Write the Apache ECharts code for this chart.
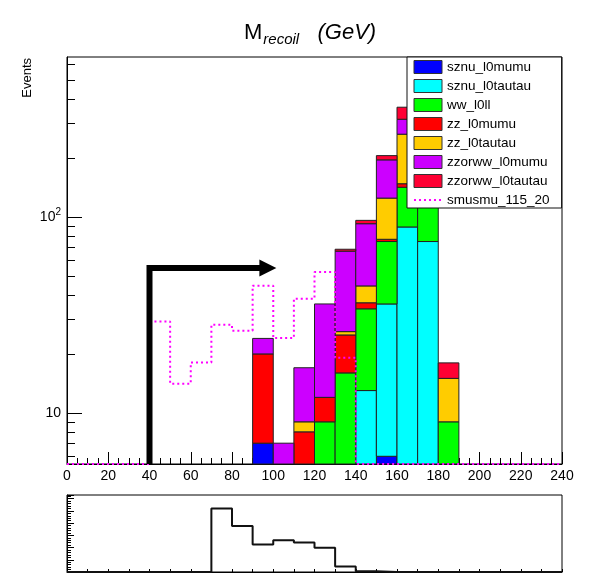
<!DOCTYPE html>
<html>
<head>
<meta charset="utf-8">
<title>M_recoil</title>
<script src="https://cdn.jsdelivr.net/npm/echarts@6/dist/echarts.min.js"></script>
<style>
  html, body { margin: 0; padding: 0; background: #ffffff; }
  #chart { width: 615px; height: 578px; }
</style>
</head>
<body>
<div id="chart"></div>
<script>
// Recoil-mass histogram: stacked backgrounds, signal overlay and a lower ratio-style panel.
const BIN_WIDTH = 10;
const Y_MIN = 5.48;
const Y_MAX = 657;

// Left edges of the 24 bins (GeV)
const binLeft = [0, 10, 20, 30, 40, 50, 60, 70, 80, 90, 100, 110,
                 120, 130, 140, 150, 160, 170, 180, 190, 200, 210, 220, 230];

// Background samples, events per bin (stack order: bottom first)
const sznu_l0mumu     = [0,0,0,0,0,0,0,0,0, 7, 0, 0, 0, 0,   0,  6,   0,  0, 0,0,0,0,0,0];
const sznu_l0tautau   = [0,0,0,0,0,0,0,0,0, 0, 0, 0, 0, 0,  13, 30,  89, 75, 0,0,0,0,0,0];
const ww_l0ll         = [0,0,0,0,0,0,0,0,0, 0, 0, 0, 9,16,  21, 39,  53, 55, 9,0,0,0,0,0];
const zz_l0mumu       = [0,0,0,0,0,0,0,0,0,13, 0, 8, 3, 9, 2.5,  2,   6,  3, 0,0,0,0,0,0];
const zz_l0tautau     = [0,0,0,0,0,0,0,0,0, 0, 0, 1, 0, 1,   8, 48, 117, 50, 6,0,0,0,0,0];
const zzorww_l0mumu   = [0,0,0,0,0,0,0,0,0, 4, 7, 8,24,41,  48, 71,  51, 30, 0,0,0,0,0,0];
const zzorww_l0tautau = [0,0,0,0,0,0,0,0,0, 0, 0, 0, 0,1.5,3.7, 10,  48, 15, 3,0,0,0,0,0];

// Signal sample (dotted outline)
const smusmu_115_20 = [0, 0, 0, 0, 29.3, 14.1, 18.1, 28.2, 26.3, 44.6, 24.1, 38.3,
                       52.4, 19.1, 0, 0, 0, 0, 0, 0, 0, 0, 0, 0];

// Lower panel
const lowerPanel = [0, 0, 0, 0, 0, 0, 0, 2.60, 1.88, 1.13, 1.30, 1.21,
                    0.99, 0.23, 0.03, 0, 0, 0, 0, 0, 0, 0, 0, 0];

// Cut marker
const cutX = 40;
const cutArrowY = 55;
const cutArrowTipX = 101.5;

// Axis tick values
const yMajorTicks = [10, 100];
const yMinorTicks = [6, 7, 8, 9, 20, 30, 40, 50, 60, 70, 80, 90, 200, 300, 400, 500, 600];

const samples = [
  { name: 'sznu_l0mumu',     values: sznu_l0mumu,     color: '#0000ff' },
  { name: 'sznu_l0tautau',   values: sznu_l0tautau,   color: '#00ffff' },
  { name: 'ww_l0ll',         values: ww_l0ll,         color: '#00ff00' },
  { name: 'zz_l0mumu',       values: zz_l0mumu,       color: '#ff0000' },
  { name: 'zz_l0tautau',     values: zz_l0tautau,     color: '#ffcc00' },
  { name: 'zzorww_l0mumu',   values: zzorww_l0mumu,   color: '#cc00ff' },
  { name: 'zzorww_l0tautau', values: zzorww_l0tautau, color: '#ff0033' }
];

const FONT = '"Liberation Sans", Arial, Helvetica, sans-serif';

// Build stacked [left, low, high] triples for every sample
const cumulative = binLeft.map(() => 0);
const stackSeries = samples.map(s => {
  const data = [];
  s.values.forEach((v, i) => {
    const lo = cumulative[i];
    const hi = lo + v;
    cumulative[i] = hi;
    if (v > 0) data.push([binLeft[i], lo, hi]);
  });
  return {
    type: 'custom',
    name: s.name,
    xAxisIndex: 0,
    yAxisIndex: 0,
    z: 2,
    itemStyle: { color: s.color, borderColor: '#222', borderWidth: 1 },
    encode: { x: 0, y: [1, 2] },
    data: data,
    renderItem: function (params, api) {
      const x0 = api.value(0), lo = api.value(1), hi = api.value(2);
      if (!(hi > lo) || hi <= Y_MIN) return;
      const a = api.coord([x0, Math.max(lo, Y_MIN)]);
      const b = api.coord([x0 + BIN_WIDTH, hi]);
      return {
        type: 'rect',
        shape: { x: a[0], y: b[1], width: b[0] - a[0], height: a[1] - b[1] },
        style: { fill: s.color, stroke: '#222', lineWidth: 1 }
      };
    }
  };
});

// Step outlines: one point per left edge plus the closing right edge
function stepPoints(values, floor) {
  const pts = binLeft.map((x, i) => [x, Math.max(values[i], floor)]);
  pts.push([binLeft[binLeft.length - 1] + BIN_WIDTH, Math.max(values[values.length - 1], floor)]);
  return pts;
}

const signalSeries = {
  type: 'line',
  name: 'smusmu_115_20',
  xAxisIndex: 0,
  yAxisIndex: 0,
  step: 'end',
  symbol: 'none',
  z: 5,
  data: stepPoints(smusmu_115_20, Y_MIN),
  // the legend marker only shows the dotted line
  itemStyle: { color: '#ff00ff', opacity: 0 },
  lineStyle: { color: '#ff00ff', width: 2, type: [2, 3] }
};

const arrowSeries = {
  type: 'custom',
  name: 'cut',
  xAxisIndex: 0,
  yAxisIndex: 0,
  z: 6,
  silent: true,
  data: [[cutX, cutArrowY, cutArrowTipX]],
  renderItem: function (params, api) {
    const x = api.value(0), y = api.value(1), tip = api.value(2);
    const p0 = api.coord([x, Y_MIN]);
    const p1 = api.coord([x, y]);
    const pt = api.coord([tip, y]);
    const headLen = 17, headHalf = 8.5;
    return {
      type: 'group',
      children: [
        {
          type: 'polyline',
          shape: { points: [p0, p1, [pt[0] - headLen + 1, pt[1]]] },
          style: { stroke: '#000', lineWidth: 6, fill: null, lineJoin: 'miter', lineCap: 'butt' }
        },
        {
          type: 'polygon',
          shape: { points: [pt, [pt[0] - headLen, pt[1] - headHalf], [pt[0] - headLen, pt[1] + headHalf]] },
          style: { fill: '#000' }
        }
      ]
    };
  }
};

const lowerSeries = {
  type: 'line',
  name: 'lower',
  xAxisIndex: 1,
  yAxisIndex: 2,
  step: 'end',
  symbol: 'none',
  data: stepPoints(lowerPanel, 0),
  lineStyle: { color: '#111', width: 2 }
};

const chart = echarts.init(document.getElementById('chart'), null, { renderer: 'canvas' });

chart.setOption({
  animation: false,
  backgroundColor: '#ffffff',
  textStyle: { fontFamily: FONT },
  title: {
    text: '{m|M}{s|recoil}{g|   (GeV)}',
    left: 239,
    top: 13,
    textStyle: {
      fontWeight: 'normal',
      rich: {
        m: { fontSize: 22, fontFamily: FONT, fontWeight: 'normal', color: '#000' },
        s: { fontSize: 15, fontFamily: FONT, fontWeight: 'normal', fontStyle: 'italic', color: '#000', padding: [14, 0, 0, 1] },
        g: { fontSize: 22, fontFamily: FONT, fontWeight: 'normal', fontStyle: 'italic', color: '#000' }
      }
    }
  },
  graphic: [
    {
      type: 'text',
      x: 27,
      y: 58,
      rotation: Math.PI / 2,
      style: {
        text: 'Events',
        fontSize: 13,
        fontFamily: FONT,
        fill: '#000',
        align: 'right',
        verticalAlign: 'middle'
      }
    }
  ],
  legend: {
    orient: 'vertical',
    left: 407,
    top: 57,
    padding: [3, 12, 1, 6],
    itemWidth: 28,
    itemHeight: 13,
    itemGap: 5,
    backgroundColor: '#ffffff',
    borderColor: '#111',
    borderWidth: 1,
    borderRadius: 0,
    z: 10,
    selectedMode: false,
    textStyle: { fontSize: 13.5, fontFamily: FONT, color: '#000' },
    data: samples.map(s => ({ name: s.name, icon: 'rect', itemStyle: { color: s.color, borderColor: '#333', borderWidth: 1, opacity: 1 } }))
      .concat([{ name: 'smusmu_115_20' }])
  },
  grid: [
    { left: 67, right: 53, top: 57, height: 407, show: true, borderColor: '#000', borderWidth: 1 },
    { left: 67, right: 53, top: 495, height: 77, show: true, borderColor: '#000', borderWidth: 1 }
  ],
  xAxis: [
    {
      type: 'value',
      gridIndex: 0,
      min: 0,
      max: 240,
      interval: 20,
      axisLine: { show: true, onZero: false, lineStyle: { color: '#000', width: 1 } },
      axisTick: { show: true, inside: true, length: 12, lineStyle: { color: '#000' } },
      minorTick: { show: true, splitNumber: 4, length: 6, lineStyle: { color: '#000' } },
      axisLabel: { fontSize: 14, color: '#000', margin: 5, fontFamily: FONT },
      splitLine: { show: false }
    },
    {
      type: 'value',
      gridIndex: 1,
      min: 0,
      max: 240,
      interval: 10,
      axisLine: { show: true, onZero: false, lineStyle: { color: '#000', width: 1 } },
      axisTick: { show: true, inside: true, length: 3, lineStyle: { color: '#000' } },
      axisLabel: { show: false },
      splitLine: { show: false }
    }
  ],
  yAxis: [
    {
      type: 'log',
      logBase: 10,
      gridIndex: 0,
      position: 'left',
      min: Y_MIN,
      max: Y_MAX,
      axisLine: { show: true, lineStyle: { color: '#000', width: 1 } },
      axisTick: { show: true, inside: true, length: 15, customValues: yMajorTicks, lineStyle: { color: '#000' } },
      axisLabel: {
        customValues: yMajorTicks,
        fontSize: 14,
        color: '#000',
        margin: 6,
        fontFamily: FONT,
        formatter: function (v) {
          const e = Math.round(Math.log10(v));
          if (Math.abs(Math.log10(v) - e) > 1e-6) return '';
          if (e === 1) return '10';
          return '10{sup|' + e + '}';
        },
        rich: {
          sup: { fontSize: 10, fontFamily: FONT, color: '#000', padding: [0, 0, 10, 0] }
        }
      },
      splitLine: { show: false }
    },
    {
      type: 'log',
      logBase: 10,
      gridIndex: 0,
      position: 'left',
      offset: 0,
      min: Y_MIN,
      max: Y_MAX,
      axisLine: { show: false },
      axisTick: { show: true, inside: true, length: 8, customValues: yMinorTicks, lineStyle: { color: '#000' } },
      axisLabel: { show: false },
      splitLine: { show: false }
    },
    {
      type: 'value',
      gridIndex: 1,
      min: 0,
      max: 3.15,
      interval: 0.5,
      axisLine: { show: true, lineStyle: { color: '#000', width: 1 } },
      axisTick: { show: true, inside: true, length: 7, lineStyle: { color: '#000' } },
      minorTick: { show: true, splitNumber: 5, length: 4, lineStyle: { color: '#000' } },
      axisLabel: { show: false },
      splitLine: { show: false }
    }
  ],
  series: stackSeries.concat([signalSeries, arrowSeries, lowerSeries])
});
</script>
</body>
</html>
